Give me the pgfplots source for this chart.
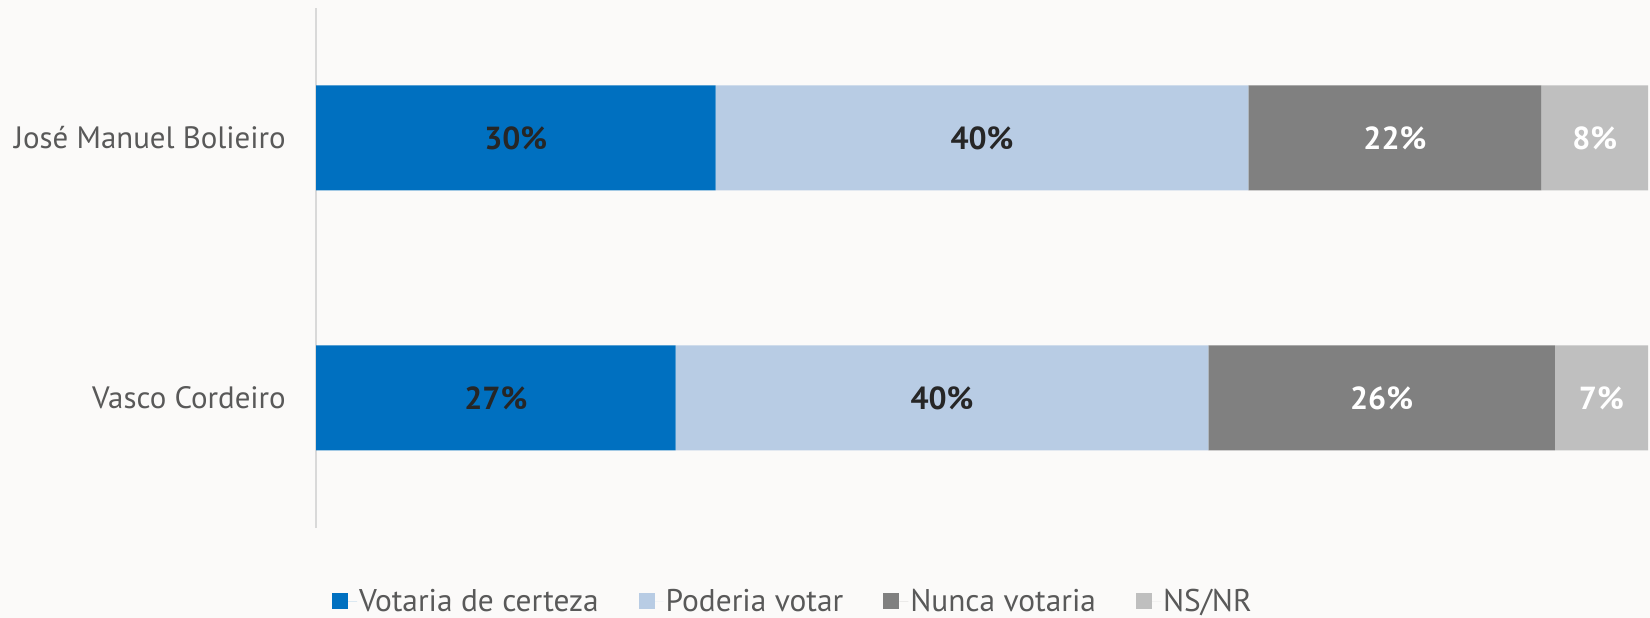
\documentclass[border=0pt]{standalone}
\usepackage{pgfplots}
\pgfplotsset{compat=1.18}
\usepackage{fontspec}
\setmainfont{PT Sans}
\definecolor{bg}{HTML}{FBFAF9}
\definecolor{c1}{HTML}{0070C0}
\definecolor{c2}{HTML}{B8CCE4}
\definecolor{c3}{HTML}{808080}
\definecolor{c4}{HTML}{BFBFBF}
\definecolor{txt}{HTML}{595959}
\definecolor{lbl}{HTML}{262626}
\definecolor{axl}{HTML}{D9D9D9}
\begin{document}
\begin{tikzpicture}
\fill[bg] (0,0) rectangle (1650bp,618bp);
\begin{axis}[
  at={(316bp,90bp)}, anchor=south west,
  scale only axis, width=1332bp, height=520bp,
  xmin=0, xmax=100, ymin=-0.5, ymax=1.5,
  xbar stacked, bar width=105bp,
  axis lines*=left,
  x axis line style={draw=none},
  y axis line style={draw=axl, line width=2bp},
  xtick=\empty,
  ytick={0,1}, yticklabels={Vasco Cordeiro, José Manuel Bolieiro},
  major tick length=0pt,
  yticklabel style={font=\fontsize{31}{36}\selectfont, text=txt, inner sep=0pt, xshift=-30bp},
  legend style={at={(0.358,-0.141)}, anchor=center, draw=none, fill=none,
    font=\fontsize{31.5}{36}\selectfont, text=txt,
    /tikz/every even column/.append style={column sep=38bp}},
  legend columns=4,
  legend image code/.code={\fill[#1] (0bp,-8bp) rectangle (16bp,8bp); \path (16bp,0bp) -- (25bp,0bp);},
  nodes near coords, point meta=explicit symbolic,
  nodes near coords style={font=\fontsize{32}{36}\selectfont\bfseries},
]
\addplot[fill=c1, draw=none, nodes near coords style={text=lbl}] coordinates {(30,1) [30\%] (27,0) [27\%]};
\addlegendentry{Votaria de certeza}
\addplot[fill=c2, draw=none, nodes near coords style={text=lbl}] coordinates {(40,1) [40\%] (40,0) [40\%]};
\addlegendentry{Poderia votar}
\addplot[fill=c3, draw=none, nodes near coords style={text=white}] coordinates {(22,1) [22\%] (26,0) [26\%]};
\addlegendentry{Nunca votaria}
\addplot[fill=c4, draw=none, nodes near coords style={text=white}] coordinates {(8,1) [8\%] (7,0) [7\%]};
\addlegendentry{NS/NR}
\end{axis}
\pgfresetboundingbox
\path (0,0) rectangle (1650bp,618bp);
\end{tikzpicture}
\end{document}
